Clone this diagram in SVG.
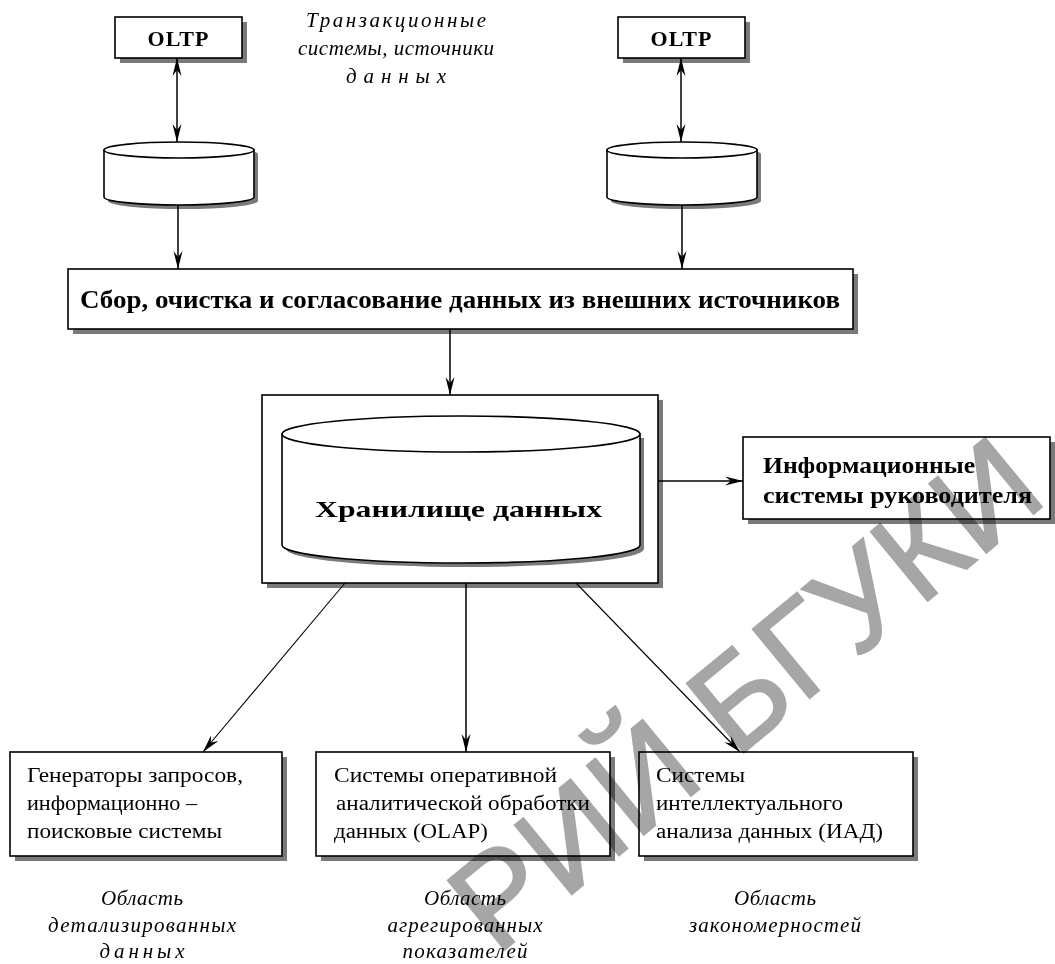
<svg xmlns="http://www.w3.org/2000/svg" width="1055" height="964" viewBox="0 0 1055 964">
<defs>
<marker id="arr" viewBox="0 0 18 10" refX="18" refY="5" markerWidth="18" markerHeight="10" markerUnits="userSpaceOnUse" orient="auto-start-reverse">
<path d="M0,0.5 L18,5 L0,9.5 L6,5 Z" fill="#000"/>
</marker>
</defs>
<style>
.sh{fill:#7a7a7a;stroke:none}
.bx{fill:#fff;stroke:#000;stroke-width:1.6}
.ln{fill:none;stroke:#000;stroke-width:1.5}
.dl{fill:none;stroke:#000;stroke-width:1.1}
.b{font-family:"Liberation Serif",serif;font-weight:bold;fill:#000}
.r{font-family:"Liberation Serif",serif;font-size:20px;fill:#000}
.i{font-family:"Liberation Serif",serif;font-style:italic;font-size:21px;fill:#000;text-anchor:middle}
.wm{font-family:"Liberation Sans",Arial,sans-serif;font-size:130px;fill:#a6a6a6;stroke:#a6a6a6;stroke-width:2;mix-blend-mode:multiply}
</style>
<rect width="1055" height="964" fill="#fff"/>

<g id="label-top">
<text class="i" x="396" y="27" textLength="180" lengthAdjust="spacing">Транзакционные</text>
<text class="i" x="396" y="55" textLength="196" lengthAdjust="spacing">системы, источники</text>
<text class="i" x="396" y="83" textLength="100" lengthAdjust="spacing">данных</text>
</g>

<g id="oltp1">
<rect class="sh" x="120" y="22" width="127" height="41"/>
<rect class="bx" x="115" y="17" width="127" height="41"/>
<text class="b" x="178.5" y="46" font-size="22" text-anchor="middle" letter-spacing="1">OLTP</text>
</g>
<g id="oltp2">
<rect class="sh" x="623" y="22" width="127" height="41"/>
<rect class="bx" x="618" y="17" width="127" height="41"/>
<text class="b" x="681.5" y="46" font-size="22" text-anchor="middle" letter-spacing="1">OLTP</text>
</g>

<g id="db1">
<path class="sh" d="M108,154 L108,201 A75,8 0 0 0 258,201 L258,154 A75,8 0 0 0 108,154 Z"/>
<path class="bx" d="M104,150 L104,197 A75,8 0 0 0 254,197 L254,150 Z"/>
<ellipse class="bx" cx="179" cy="150" rx="75" ry="8"/>
</g>
<g id="db2">
<path class="sh" d="M611,154 L611,201 A75,8 0 0 0 761,201 L761,154 A75,8 0 0 0 611,154 Z"/>
<path class="bx" d="M607,150 L607,197 A75,8 0 0 0 757,197 L757,150 Z"/>
<ellipse class="bx" cx="682" cy="150" rx="75" ry="8"/>
</g>

<g id="collect">
<rect class="sh" x="73" y="274" width="785" height="60"/>
<rect class="bx" x="68" y="269" width="785" height="60"/>
<text class="b" x="80" y="308" font-size="25" textLength="760" lengthAdjust="spacingAndGlyphs">Сбор, очистка и согласование данных из внешних источников</text>
</g>

<g id="dw">
<rect class="sh" x="267" y="400" width="396" height="188"/>
<rect class="bx" x="262" y="395" width="396" height="188"/>
<path class="sh" d="M286,438 L286,549 A179,18 0 0 0 644,549 L644,438 Z"/>
<path class="bx" d="M282,434 L282,545 A179,18 0 0 0 640,545 L640,434 Z"/>
<ellipse class="bx" cx="461" cy="434" rx="179" ry="18"/>
<text class="b" x="315" y="517" font-size="24" textLength="287" lengthAdjust="spacingAndGlyphs">Хранилище данных</text>
</g>

<g id="eis">
<rect class="sh" x="748" y="442" width="307" height="82"/>
<rect class="bx" x="743" y="437" width="307" height="82"/>
<text class="b" x="763" y="473" font-size="24" textLength="212" lengthAdjust="spacingAndGlyphs">Информационные</text>
<text class="b" x="763" y="503" font-size="24" textLength="269" lengthAdjust="spacingAndGlyphs">системы руководителя</text>
</g>

<g id="box-query">
<rect class="sh" x="15" y="757" width="272" height="104"/>
<rect class="bx" x="10" y="752" width="272" height="104"/>
<text class="r" x="27" y="782" textLength="216" lengthAdjust="spacingAndGlyphs">Генераторы запросов,</text>
<text class="r" x="27" y="810" textLength="170" lengthAdjust="spacingAndGlyphs">информационно –</text>
<text class="r" x="27" y="838" textLength="195" lengthAdjust="spacingAndGlyphs">поисковые системы</text>
</g>
<g id="box-olap">
<rect class="sh" x="321" y="757" width="294" height="104"/>
<rect class="bx" x="316" y="752" width="294" height="104"/>
<text class="r" x="334" y="782" textLength="223" lengthAdjust="spacingAndGlyphs">Системы оперативной</text>
<text class="r" x="336" y="810" textLength="254" lengthAdjust="spacingAndGlyphs">аналитической обработки</text>
<text class="r" x="334" y="838" textLength="154" lengthAdjust="spacingAndGlyphs">данных (OLAP)</text>
</g>
<g id="box-iad">
<rect class="sh" x="644" y="757" width="274" height="104"/>
<rect class="bx" x="639" y="752" width="274" height="104"/>
<text class="r" x="656" y="782" textLength="89" lengthAdjust="spacingAndGlyphs">Системы</text>
<text class="r" x="656" y="810" textLength="187" lengthAdjust="spacingAndGlyphs">интеллектуального</text>
<text class="r" x="656" y="838" textLength="227" lengthAdjust="spacingAndGlyphs">анализа данных (ИАД)</text>
</g>

<g id="label-detail">
<text class="i" x="142" y="905" textLength="82" lengthAdjust="spacing">Область</text>
<text class="i" x="142" y="932" textLength="188" lengthAdjust="spacing">детализированных</text>
<text class="i" x="142" y="958" textLength="85" lengthAdjust="spacing">данных</text>
</g>
<g id="label-aggr">
<text class="i" x="465" y="905" textLength="82" lengthAdjust="spacing">Область</text>
<text class="i" x="465" y="932" textLength="155" lengthAdjust="spacing">агрегированных</text>
<text class="i" x="465" y="958" textLength="125" lengthAdjust="spacing">показателей</text>
</g>
<g id="label-patt">
<text class="i" x="775" y="905" textLength="82" lengthAdjust="spacing">Область</text>
<text class="i" x="775" y="932" textLength="172" lengthAdjust="spacing">закономерностей</text>
</g>

<g id="connectors">
<line class="ln" x1="177" y1="58" x2="177" y2="142" marker-start="url(#arr)" marker-end="url(#arr)"/>
<line class="ln" x1="681" y1="58" x2="681" y2="142" marker-start="url(#arr)" marker-end="url(#arr)"/>
<line class="ln" x1="178" y1="205" x2="178" y2="269" marker-end="url(#arr)"/>
<line class="ln" x1="682" y1="205" x2="682" y2="269" marker-end="url(#arr)"/>
<line class="ln" x1="450" y1="329" x2="450" y2="395" marker-end="url(#arr)"/>
<line class="ln" x1="658" y1="481" x2="743" y2="481" marker-end="url(#arr)"/>
<line class="dl" x1="345" y1="583" x2="203" y2="752" marker-end="url(#arr)"/>
<line class="ln" x1="466" y1="583" x2="466" y2="752" marker-end="url(#arr)"/>
<line class="dl" x1="576" y1="583" x2="740" y2="752" marker-end="url(#arr)"/>
</g>

<text class="wm" transform="translate(1050,500) rotate(-39.5)" text-anchor="end">РИЙ БГУКИ</text>
</svg>
